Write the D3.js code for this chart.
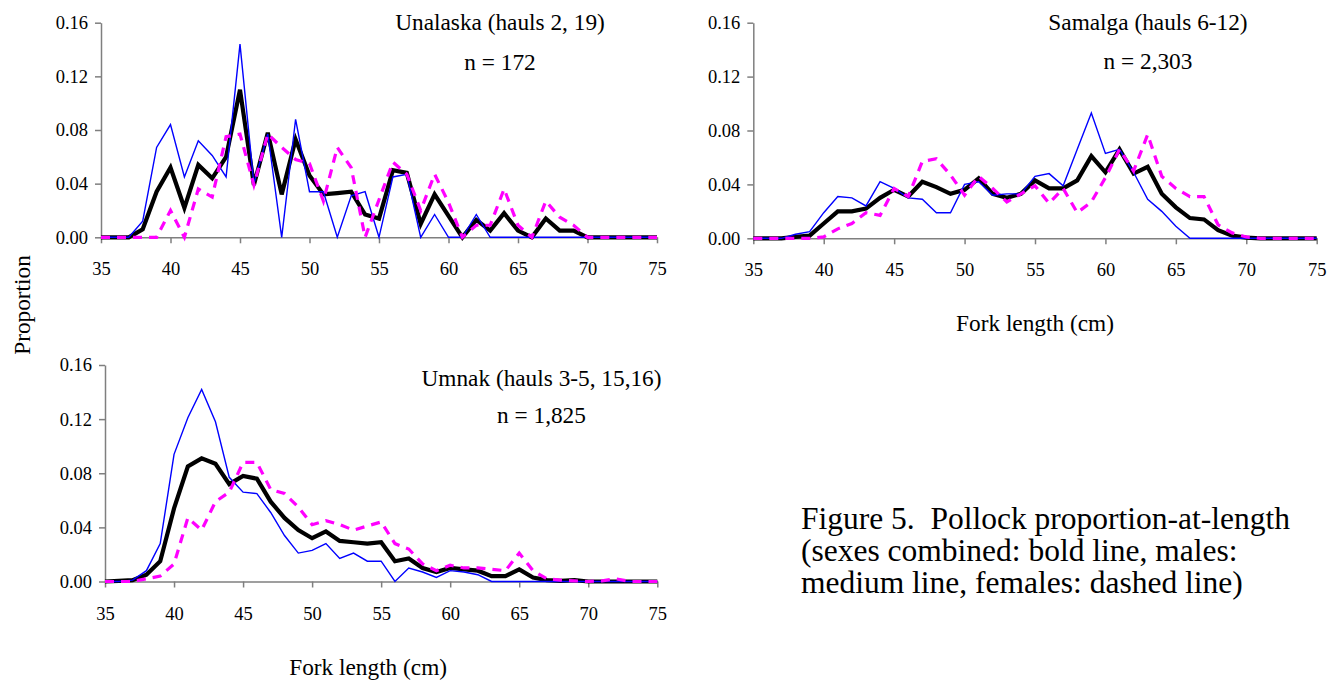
<!DOCTYPE html>
<html>
<head>
<meta charset="utf-8">
<script src="https://cdn.jsdelivr.net/npm/d3@7/dist/d3.min.js"></script>
<style>
  html, body { margin: 0; padding: 0; background: #fff; }
  svg { display: block; }
  text { font-family: "Liberation Serif", "Times New Roman", serif; fill: #000; }
</style>
</head>
<body>
<svg id="chart" width="1343" height="682"></svg>
<script>
// ---- Data ----
const lengths = [35,36,37,38,39,40,41,42,43,44,45,46,47,48,49,50,51,52,53,54,55,
                 56,57,58,59,60,61,62,63,64,65,66,67,68,69,70,71,72,73,74,75];
const xTicks = [35,40,45,50,55,60,65,70,75];
const yTicks = [0, 0.04, 0.08, 0.12, 0.16];

// Unalaska (hauls 2, 19)
const unalaskaCombined = [0,0,0,0.006,0.034,0.052,0.022,0.054,0.044,0.060,0.110,0.039,0.078,0.032,0.073,0.046,0.032,0.033,0.034,0.017,0.014,
                          0.050,0.048,0.010,0.032,0.016,0,0.013,0.005,0.018,0.005,0,0.014,0.005,0.005,0,0,0,0,0,0];
const unalaskaMales    = [0,0,0,0.012,0.067,0.084,0.045,0.072,0.061,0.045,0.144,0.040,0.077,0,0.088,0.034,0.034,0,0.031,0.034,0,
                          0.045,0.047,0,0.017,0,0,0.017,0,0,0,0,0,0,0,0,0,0,0,0,0];
const unalaskaFemales  = [0,0,0,0,0,0.020,0,0.036,0.030,0.075,0.077,0.039,0.077,0.067,0.058,0.055,0.027,0.067,0.052,0,0.028,
                          0.056,0.047,0.020,0.047,0.026,0,0.009,0.009,0.036,0.009,0,0.027,0.015,0.009,0,0,0,0,0,0];

// Samalga (hauls 6-12)
const samalgaCombined = [0,0,0,0.001,0.002,0.011,0.020,0.020,0.022,0.030,0.036,0.031,0.042,0.038,0.033,0.036,0.0445,0.033,0.030,0.033,0.043,
                         0.037,0.037,0.043,0.061,0.049,0.066,0.048,0.053,0.033,0.023,0.015,0.014,0.006,0.002,0.0005,0,0,0,0,0];
const samalgaMales    = [0,0,0,0.003,0.005,0.019,0.031,0.030,0.024,0.042,0.037,0.030,0.029,0.019,0.019,0.040,0.042,0.032,0.033,0.033,0.046,
                         0.048,0.039,0.066,0.093,0.063,0.066,0.049,0.029,0.020,0.009,0,0,0,0,0,0,0,0,0,0];
const samalgaFemales  = [0,0,0,0,0,0.001,0.007,0.011,0.019,0.017,0.037,0.031,0.057,0.059,0.047,0.032,0.046,0.037,0.027,0.033,0.039,
                         0.026,0.037,0.019,0.027,0.045,0.066,0.050,0.077,0.046,0.037,0.031,0.031,0.010,0.004,0.001,0,0,0,0,0];

// Umnak (hauls 3-5, 15,16)
const umnakCombined = [0,0.0005,0.001,0.005,0.015,0.054,0.085,0.091,0.087,0.072,0.078,0.076,0.059,0.047,0.038,0.032,0.037,0.030,0.029,0.028,0.029,
                       0.015,0.017,0.010,0.007,0.010,0.009,0.008,0.004,0.004,0.009,0.003,0.001,0.0005,0.001,0,0,0,0,0,0];
const umnakMales    = [0,0,0.001,0.008,0.028,0.094,0.121,0.142,0.118,0.077,0.066,0.065,0.051,0.034,0.021,0.023,0.028,0.017,0.021,0.015,0.015,
                       0,0.010,0.007,0.003,0.008,0.007,0.005,0,0,0,0,0,0,0,0,0,0,0,0,0];
const umnakFemales  = [0,0,0,0.002,0.004,0.013,0.047,0.038,0.059,0.066,0.088,0.088,0.068,0.065,0.055,0.042,0.045,0.042,0.038,0.041,0.044,
                       0.028,0.024,0.013,0.008,0.012,0.010,0.010,0.009,0.008,0.021,0.008,0.002,0.001,0.0005,0,0.0005,0.002,0,0,0];

const panelTitles = ["Unalaska (hauls 2, 19)", "Samalga (hauls 6-12)", "Umnak (hauls 3-5, 15,16)"];
const panelCounts = ["n = 172", "n = 2,303", "n = 1,825"];
const captionLines = ["Figure 5.\u00a0 Pollock proportion-at-length",
                      "(sexes combined: bold line, males:",
                      "medium line, females: dashed line)"];

// ---- Layout ----
const panels = [
  { x0: 101,   x1: 657,   yTop: 22.7, yBot: 237.3, series: [unalaskaCombined, unalaskaMales, unalaskaFemales],
    title: panelTitles[0], count: panelCounts[0], tx: 500,  ty: 30,  cy: 70,  xlabel: false },
  { x0: 753.3, x1: 1316.7, yTop: 22.7, yBot: 238.3, series: [samalgaCombined, samalgaMales, samalgaFemales],
    title: panelTitles[1], count: panelCounts[1], tx: 1148, ty: 30,  cy: 69,  xlabel: true, xly: 331 },
  { x0: 105,   x1: 657.3, yTop: 365,  yBot: 581.5, series: [umnakCombined, umnakMales, umnakFemales],
    title: panelTitles[2], count: panelCounts[2], tx: 541.5, ty: 386, cy: 423, xlabel: true, xly: 675 }
];

const styles = [
  { color: "#000000", width: 4.2, dash: null },
  { color: "#0000FF", width: 1.4, dash: null },
  { color: "#FF00FF", width: 3.2, dash: "9,7" }
];

const svg = d3.select("#chart");
const axisColor = "#7f7f7f";

panels.forEach(p => {
  const x = d3.scaleLinear().domain([35, 75]).range([p.x0, p.x1]);
  const y = d3.scaleLinear().domain([0, 0.16]).range([p.yBot, p.yTop]);
  const g = svg.append("g");

  // y axis
  const ya = g.append("g").attr("transform", `translate(${p.x0},0)`)
    .call(d3.axisLeft(y).tickValues(yTicks).tickFormat(d3.format(".2f")).tickSize(6).tickPadding(7).tickSizeOuter(0));
  // x axis
  const xa = g.append("g").attr("transform", `translate(0,${p.yBot})`)
    .call(d3.axisBottom(x).tickValues(xTicks).tickFormat(d3.format("d")).tickSize(6).tickPadding(19).tickSizeOuter(0));

  [ya, xa].forEach(a => {
    a.select(".domain").attr("stroke", axisColor).attr("stroke-width", 1.5);
    a.selectAll(".tick line").attr("stroke", axisColor).attr("stroke-width", 1.5);
    a.selectAll(".tick text").attr("font-size", "18.5px")
      .attr("font-family", "'Liberation Serif', 'Times New Roman', serif").attr("fill", "#000");
  });

  // lines
  p.series.forEach((vals, i) => {
    const st = styles[i];
    const line = d3.line().x((d, j) => x(lengths[j])).y(d => y(d));
    g.append("path").datum(vals)
      .attr("d", line)
      .attr("fill", "none")
      .attr("stroke", st.color)
      .attr("stroke-width", st.width)
      .attr("stroke-linejoin", "miter")
      .attr("stroke-dasharray", st.dash);
  });

  // titles
  g.append("text").attr("x", p.tx).attr("y", p.ty).attr("text-anchor", "middle")
    .attr("font-size", "23.3px").text(p.title);
  g.append("text").attr("x", p.tx).attr("y", p.cy).attr("text-anchor", "middle")
    .attr("font-size", "23.3px").text(p.count);

  if (p.xlabel) {
    g.append("text").attr("x", (p.x0 + p.x1) / 2 + (p === panels[2] ? -13 : 0)).attr("y", p.xly)
      .attr("text-anchor", "middle").attr("font-size", "23.3px").text("Fork length (cm)");
  }
});

// y-axis label
svg.append("text").attr("transform", "translate(30,305) rotate(-90)")
  .attr("text-anchor", "middle").attr("font-size", "23.3px").text("Proportion");

// caption
const cap = svg.append("text").attr("font-size", "31.5px");
captionLines.forEach((t, i) => {
  cap.append("tspan").attr("x", 801).attr("y", 529 + i * 32).text(t);
});
</script>
</body>
</html>
